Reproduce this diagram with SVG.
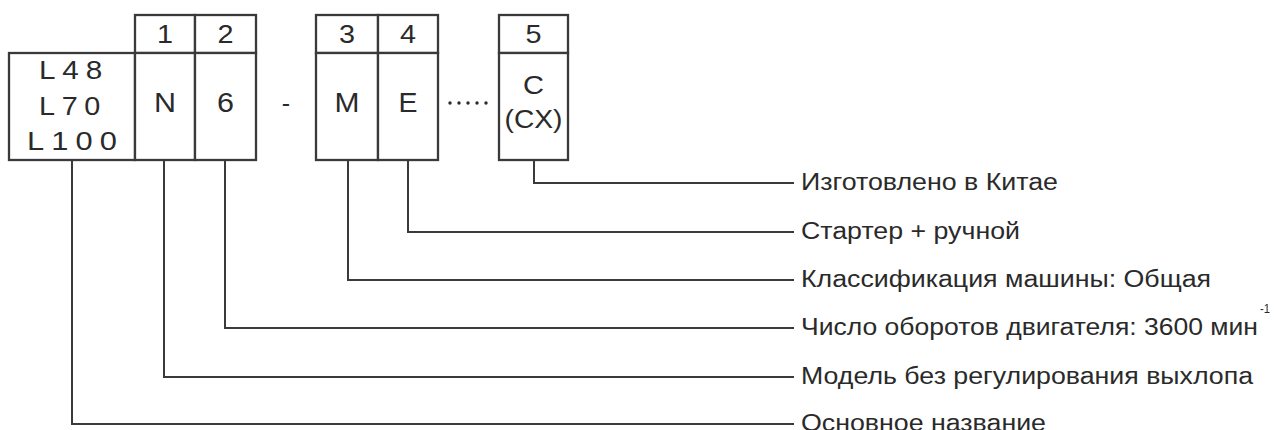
<svg xmlns="http://www.w3.org/2000/svg" width="1274" height="430" viewBox="0 0 1274 430">
  <style>
    .box { fill: #ffffff; stroke: #3a3a3c; stroke-width: 2.3; }
    .conn { fill: none; stroke: #3a3a3c; stroke-width: 2; }
    .code { font-family: "Liberation Sans", Arial, sans-serif; font-size: 25px; fill: #2a2a2a; text-anchor: middle; }
    .big { font-size: 27px; }
    .model { font-family: "Liberation Sans", Arial, sans-serif; font-size: 26px; fill: #2a2a2a; letter-spacing: 6px; }
    .lbl { font-family: "Liberation Sans", Arial, sans-serif; font-size: 23px; fill: #2a2a2a; }
    .sup { font-family: "Liberation Sans", Arial, sans-serif; font-size: 12px; fill: #2a2a2a; }
    .dot { fill: #2a2a2a; }
  </style>
  <rect width="1274" height="430" fill="#ffffff"/>

  <g id="connectors">
    <polyline class="conn" points="72,160 72,424 794,424"/>
    <polyline class="conn" points="164,160 164,377 794,377"/>
    <polyline class="conn" points="225,160 225,328 794,328"/>
    <polyline class="conn" points="348,160 348,280 794,280"/>
    <polyline class="conn" points="408,160 408,232 794,232"/>
    <polyline class="conn" points="534,160 534,183 794,183"/>
  </g>

  <g id="node-model">
    <rect class="box" x="9" y="53" width="126" height="107"/>
    <text class="model" x="39" y="79" textLength="70" lengthAdjust="spacingAndGlyphs">L48</text>
    <text class="model" x="39" y="115" textLength="68" lengthAdjust="spacingAndGlyphs">L70</text>
    <text class="model" x="27" y="150" textLength="97" lengthAdjust="spacingAndGlyphs">L100</text>
  </g>

  <g id="node-1">
    <rect class="box" x="135" y="15" width="60" height="38"/>
    <rect class="box" x="135" y="53" width="60" height="107"/>
    <text class="code" x="165" y="43" textLength="16" lengthAdjust="spacingAndGlyphs">1</text>
    <text class="code big" x="165" y="112" textLength="22" lengthAdjust="spacingAndGlyphs">N</text>
  </g>

  <g id="node-2">
    <rect class="box" x="195" y="15" width="61" height="38"/>
    <rect class="box" x="195" y="53" width="61" height="107"/>
    <text class="code" x="225.5" y="43" textLength="16" lengthAdjust="spacingAndGlyphs">2</text>
    <text class="code big" x="225.5" y="112" textLength="17" lengthAdjust="spacingAndGlyphs">6</text>
  </g>

  <g id="sep-dash">
    <text class="code" x="286" y="112">-</text>
  </g>

  <g id="node-3">
    <rect class="box" x="316" y="15" width="62" height="38"/>
    <rect class="box" x="316" y="53" width="62" height="107"/>
    <text class="code" x="347" y="43" textLength="16" lengthAdjust="spacingAndGlyphs">3</text>
    <text class="code big" x="347" y="112" textLength="25" lengthAdjust="spacingAndGlyphs">M</text>
  </g>

  <g id="node-4">
    <rect class="box" x="378" y="15" width="60" height="38"/>
    <rect class="box" x="378" y="53" width="60" height="107"/>
    <text class="code" x="408" y="43" textLength="16" lengthAdjust="spacingAndGlyphs">4</text>
    <text class="code big" x="408" y="112" textLength="19" lengthAdjust="spacingAndGlyphs">E</text>
  </g>

  <g id="sep-dots">
    <circle class="dot" cx="450" cy="103" r="1.7"/>
    <circle class="dot" cx="459" cy="103" r="1.7"/>
    <circle class="dot" cx="468" cy="103" r="1.7"/>
    <circle class="dot" cx="477" cy="103" r="1.7"/>
    <circle class="dot" cx="486" cy="103" r="1.7"/>
  </g>

  <g id="node-5">
    <rect class="box" x="499" y="15" width="69" height="38"/>
    <rect class="box" x="499" y="53" width="69" height="107"/>
    <text class="code" x="533.5" y="43" textLength="16" lengthAdjust="spacingAndGlyphs">5</text>
    <text class="code" x="533.5" y="94" textLength="21" lengthAdjust="spacingAndGlyphs">C</text>
    <text class="code" x="533.5" y="128" textLength="58" lengthAdjust="spacingAndGlyphs">(CX)</text>
  </g>

  <g id="labels">
    <text class="lbl" x="801" y="190" textLength="257" lengthAdjust="spacingAndGlyphs">Изготовлено в Китае</text>
    <text class="lbl" x="801" y="239" textLength="219" lengthAdjust="spacingAndGlyphs">Стартер + ручной</text>
    <text class="lbl" x="801" y="287" textLength="410" lengthAdjust="spacingAndGlyphs">Классификация машины: Общая</text>
    <text class="lbl" x="801" y="335" textLength="457" lengthAdjust="spacingAndGlyphs">Число оборотов двигателя: 3600 мин</text>
    <text class="sup" x="1260" y="313" textLength="10" lengthAdjust="spacingAndGlyphs">-1</text>
    <text class="lbl" x="801" y="384" textLength="452" lengthAdjust="spacingAndGlyphs">Модель без регулирования выхлопа</text>
    <text class="lbl" x="801" y="431" textLength="245" lengthAdjust="spacingAndGlyphs">Основное название</text>
  </g>
</svg>
